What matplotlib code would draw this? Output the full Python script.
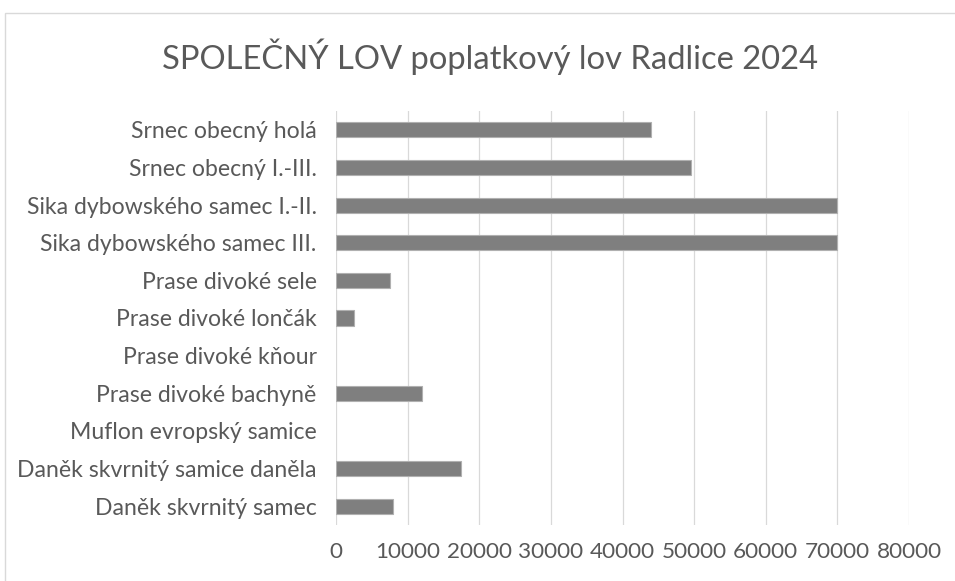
import matplotlib
matplotlib.use("Agg")
import matplotlib.pyplot as plt
from matplotlib.patches import Rectangle

categories = [
    "Daněk skvrnitý samec",
    "Daněk skvrnitý samice daněla",
    "Muflon evropský samice",
    "Prase divoké bachyně",
    "Prase divoké kňour",
    "Prase divoké lončák",
    "Prase divoké sele",
    "Sika dybowského samec III.",
    "Sika dybowského samec I.-II.",
    "Srnec obecný I.-III.",
    "Srnec obecný holá",
]
values = [8000, 17500, 0, 12000, 0, 2500, 7500, 70000, 70000, 49500, 44000]
xticks = [0, 10000, 20000, 30000, 40000, 50000, 60000, 70000, 80000]
title = "SPOLEČNÝ LOV poplatkový lov Radlice 2024"

plt.rcParams['font.family'] = ['Lato', 'DejaVu Sans']
W, H = 955, 581
fig = plt.figure(figsize=(W / 100, H / 100), dpi=100)
fig.patches.append(Rectangle((5 / W, -0.1), 1.2, 1.1 - 13 / H, transform=fig.transFigure,
                             facecolor='none', edgecolor='#d9d9d9', linewidth=1.0))
ax = fig.add_axes([336 / W, 1 - 525 / H, (909 - 336) / W, (525 - 111) / H])
edges = ['#b0b0b0' if v > 0 else 'none' for v in values]
ax.barh(range(len(categories)), values, height=0.4, color='#7f7f7f', edgecolor=edges, linewidth=0.8, zorder=3)
ax.set_yticks(range(len(categories)))
ax.set_yticklabels(categories)
ax.set_ylim(-0.5, len(categories) - 0.5)
ax.set_xlim(0, 80000)
ax.set_xticks(xticks)
ax.set_xticklabels([str(v) for v in xticks])
ax.grid(axis='x', color='#d9d9d9', linewidth=0.9, zorder=0)
for s in ax.spines.values():
    s.set_visible(False)
ax.tick_params(axis='y', length=0, pad=14, labelsize=16.6, labelcolor='#595959')
ax.tick_params(axis='x', length=0, pad=12, labelsize=16.2, labelcolor='#595959')
fig.text(490 / W, 1 - 57 / H, title, ha='center', va='center', fontsize=23.6, color='#595959')
fig.savefig("out.png", dpi=100)
